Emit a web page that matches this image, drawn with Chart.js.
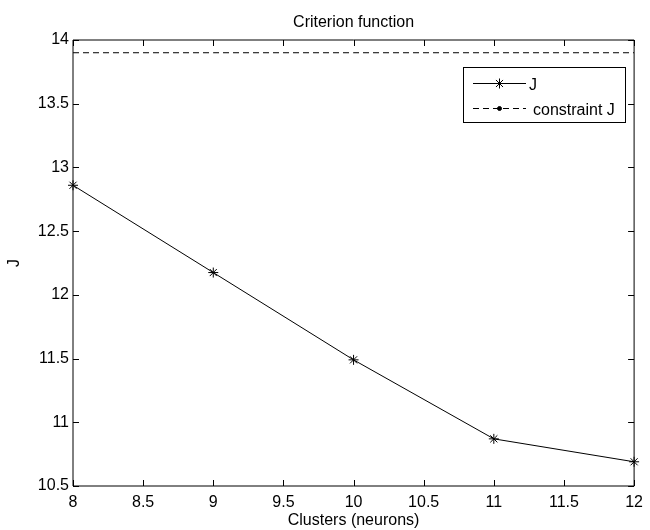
<!DOCTYPE html>
<html>
<head>
<meta charset="utf-8">
<script src="https://cdn.jsdelivr.net/npm/chart.js@4"></script>
<style>
  html, body { margin: 0; padding: 0; background: #ffffff; }
  #c { display: block; }
</style>
</head>
<body>
<canvas id="c" width="650" height="530"></canvas>
<script>
// ---- data ----
const chartTitle = "Criterion function";
const xAxisTitle = "Clusters (neurons)";
const yAxisTitle = "J";
const clusters = [8, 9, 10, 11, 12];
const jValues = [12.86, 12.175, 11.49, 10.87, 10.69];
const constraintValues = [13.9, 13.9, 13.9, 13.9, 13.9];
const seriesLabels = ["J", "constraint J"];
const xTickRange = [8, 12, 0.5];
const yTickRange = [10.5, 14, 0.5];

const FONT = '"Liberation Sans", Arial, Helvetica, sans-serif';

const toPoints = (xs, ys) => xs.map((x, i) => ({ x: x, y: ys[i] }));
const fmt = v => String(Number(Number(v).toFixed(2)));

// MATLAB-style axes box, inward ticks, title and legend
const matlabAxes = {
  id: 'matlabAxes',
  afterDatasetsDraw(chart) {
    const { ctx, chartArea: a, scales } = chart;
    ctx.save();
    ctx.strokeStyle = '#000';
    ctx.lineWidth = 1;
    ctx.beginPath();
    ctx.rect(a.left, a.top, a.right - a.left, a.bottom - a.top);
    ctx.stroke();
    const tl = 6;
    ctx.beginPath();
    scales.x.ticks.forEach(t => {
      const px = Math.round(scales.x.getPixelForValue(t.value)) + 0.5;
      ctx.moveTo(px, a.bottom); ctx.lineTo(px, a.bottom - tl);
      ctx.moveTo(px, a.top); ctx.lineTo(px, a.top + tl);
    });
    scales.y.ticks.forEach(t => {
      const py = Math.round(scales.y.getPixelForValue(t.value)) + 0.5;
      ctx.moveTo(a.left, py); ctx.lineTo(a.left + tl, py);
      ctx.moveTo(a.right, py); ctx.lineTo(a.right - tl, py);
    });
    ctx.stroke();
    ctx.restore();
  },
  afterDraw(chart) {
    const { ctx, chartArea: a } = chart;
    ctx.save();
    // title
    ctx.fillStyle = '#000';
    ctx.font = '16px ' + FONT;
    ctx.textAlign = 'center';
    ctx.textBaseline = 'alphabetic';
    ctx.fillText(chartTitle, (a.left + a.right) / 2, 27);

    // legend
    const bx = 463.5, by = 67.5, bw = 162, bh = 55;
    ctx.fillStyle = '#fff';
    ctx.fillRect(bx, by, bw, bh);
    ctx.strokeStyle = '#000';
    ctx.lineWidth = 1;
    ctx.strokeRect(bx, by, bw, bh);
    const ds = chart.data.datasets;
    const rows = [83.5, 108.5];
    const lx0 = 473, lx1 = 526, mx = 499.5;
    ds.forEach((d, i) => {
      const y = rows[i];
      ctx.save();
      ctx.strokeStyle = d.borderColor;
      ctx.lineWidth = d.borderWidth;
      ctx.setLineDash(d.borderDash || []);
      ctx.beginPath();
      ctx.moveTo(lx0, y); ctx.lineTo(lx1, y);
      ctx.stroke();
      ctx.restore();
      Chart.helpers.drawPoint(ctx, {
        pointStyle: d.legendPointStyle,
        radius: d.legendPointRadius,
        rotation: 0,
        borderWidth: 1
      }, mx, y);
      ctx.fillStyle = '#000';
      ctx.font = '16px ' + FONT;
      ctx.textAlign = 'left';
      ctx.textBaseline = 'alphabetic';
      ctx.fillText(d.label, i === 0 ? 529 : 533, y + 6);
    });
    ctx.restore();
  }
};

new Chart(document.getElementById('c'), {
  type: 'line',
  data: {
    datasets: [
      {
        label: seriesLabels[0],
        data: toPoints(clusters, jValues),
        borderColor: '#000',
        backgroundColor: '#000',
        borderWidth: 1,
        pointStyle: 'star',
        pointRadius: 5,
        pointBorderWidth: 1,
        pointBorderColor: '#000',
        legendPointStyle: 'star',
        legendPointRadius: 5,
        fill: false,
        tension: 0,
        clip: false
      },
      {
        label: seriesLabels[1],
        data: toPoints(clusters, constraintValues),
        borderColor: '#000',
        backgroundColor: '#000',
        borderWidth: 1,
        borderDash: [6, 4],
        pointRadius: 0,
        legendPointStyle: 'circle',
        legendPointRadius: 2,
        fill: false,
        tension: 0
      }
    ]
  },
  options: {
    responsive: false,
    animation: false,
    devicePixelRatio: 1,
    layout: { padding: { top: 40, right: 11, left: 0, bottom: 0 } },
    plugins: {
      legend: { display: false },
      title: { display: false },
      tooltip: { enabled: false }
    },
    scales: {
      x: {
        type: 'linear',
        min: xTickRange[0],
        max: xTickRange[1],
        ticks: {
          stepSize: xTickRange[2],
          color: '#000',
          font: { family: FONT, size: 16 },
          padding: 7,
          maxRotation: 0,
          autoSkip: false,
          callback: fmt
        },
        grid: { display: false, drawTicks: false },
        border: { display: false },
        title: {
          display: true,
          text: xAxisTitle,
          color: '#000',
          font: { family: FONT, size: 16 },
          padding: { top: 0, bottom: 0 }
        },
        afterFit(s) { s.height = 44; }
      },
      y: {
        type: 'linear',
        min: yTickRange[0],
        max: yTickRange[1],
        ticks: {
          stepSize: yTickRange[2],
          color: '#000',
          font: { family: FONT, size: 16 },
          padding: 4,
          autoSkip: false,
          callback: fmt
        },
        grid: { display: false, drawTicks: false },
        border: { display: false },
        title: {
          display: true,
          text: yAxisTitle,
          color: '#000',
          font: { family: FONT, size: 16 },
          padding: { top: 5, bottom: 0 }
        },
        afterFit(s) { s.width = 73; }
      }
    }
  },
  plugins: [matlabAxes]
});
</script>
</body>
</html>
